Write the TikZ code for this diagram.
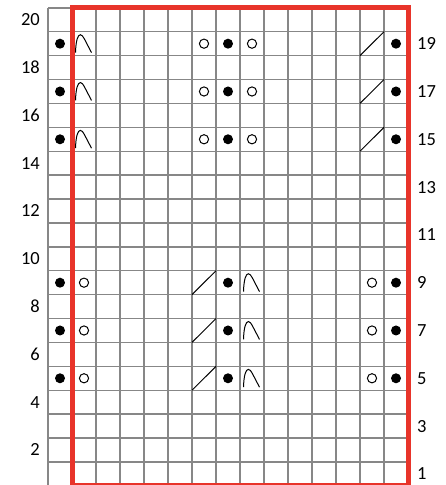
\documentclass[tikz,border=0pt]{standalone}
\usepackage{fontspec}
\setmainfont{Carlito}
\definecolor{chartred}{RGB}{232,52,42}
\definecolor{chartgray}{RGB}{135,135,135}

\begin{document}
\begin{tikzpicture}[x=24pt, y=23.9pt,
    gridline/.style={draw=chartgray, line width=1.4pt},
    redframe/.style={draw=chartred, line width=5pt},
    stitch/.style={black, line width=1pt},
    rownum/.style={inner sep=0pt, font=\fontsize{18.5}{20}\selectfont},
    archstitch/.pic={
        \draw[stitch] (0.146,0.126) .. controls (0.16,0.62) and (0.24,0.874) .. (0.35,0.874)
            .. controls (0.41,0.874) and (0.46,0.8) .. (0.51,0.71) -- (0.813,0.126);
    }]

    \useasboundingbox (-2,0.035) rectangle (16.542,20.328);

    % grid
    \foreach \c in {0,...,15}
        \draw[gridline] (\c,0) -- (\c,20);
    \foreach \r in {0,...,20}
        \draw[gridline] (0,\r) -- (15,\r);

    % red frame
    \draw[redframe] (1,0) rectangle (15,20);

    % row numbers
    \foreach \r in {2,4,...,20}
        \node[rownum, anchor=east] (even-\r) at (-0.333,\r-0.5) {\r};
    \foreach \r in {1,3,...,19}
        \node[rownum, anchor=west] (odd-\r) at (15.375,\r-0.5) {\r};

    % rows 15, 17, 19
    \foreach \r in {15,17,19} {
        \fill (0.5,\r-0.5) circle (5pt);
        \pic at (1,\r-1) {archstitch};
        \draw[stitch] (6.5,\r-0.5) circle (4.6pt);
        \fill (7.5,\r-0.5) circle (5pt);
        \draw[stitch] (8.5,\r-0.5) circle (4.6pt);
        \draw[stitch] (13,\r-1) -- (14,\r);
        \fill (14.5,\r-0.5) circle (5pt);
    }

    % rows 5, 7, 9
    \foreach \r in {5,7,9} {
        \fill (0.5,\r-0.5) circle (5pt);
        \draw[stitch] (1.5,\r-0.5) circle (4.6pt);
        \draw[stitch] (6,\r-1) -- (7,\r);
        \fill (7.5,\r-0.5) circle (5pt);
        \pic at (8,\r-1) {archstitch};
        \draw[stitch] (13.5,\r-0.5) circle (4.6pt);
        \fill (14.5,\r-0.5) circle (5pt);
    }

\end{tikzpicture}
\end{document}
